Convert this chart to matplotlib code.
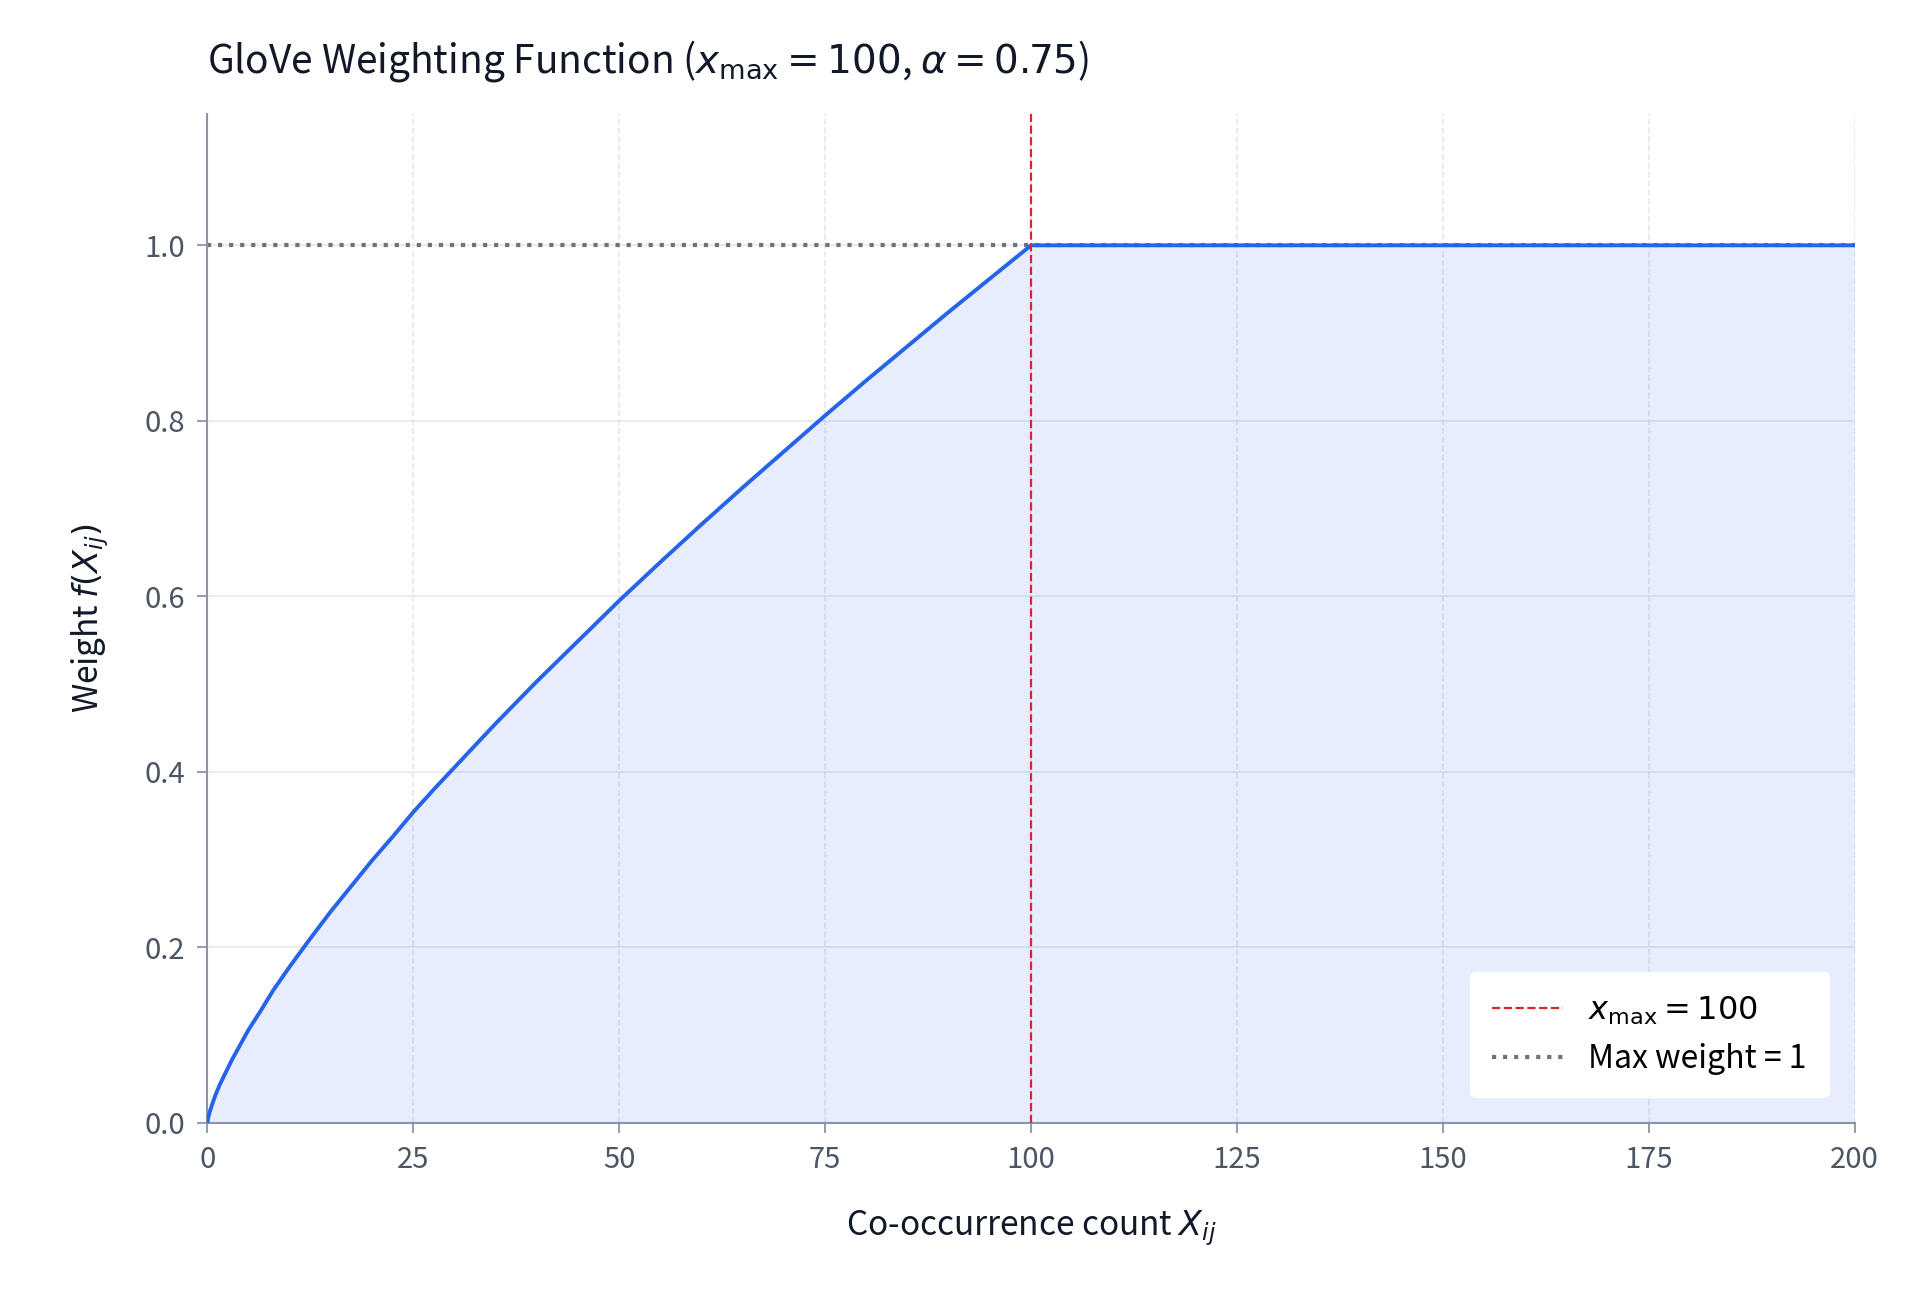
import matplotlib
matplotlib.use('Agg')
import matplotlib.pyplot as plt

plt.rcParams['font.family'] = ['Noto Sans CJK KR', 'DejaVu Sans']
plt.rcParams['mathtext.fontset'] = 'dejavusans'

# weight
counts = [0, 0.1, 0.3, 0.6, 1, 1.5, 2, 3, 4, 5, 6.5, 8, 10, 12.5, 15, 17.5,
          20, 22.5, 25, 27.5, 30, 35, 40, 45, 50, 55, 60, 65, 70, 75, 80, 85,
          90, 95, 100, 200]
weights = [0.0, 0.0056, 0.0128, 0.0215, 0.032, 0.0433, 0.053, 0.072, 0.089,
           0.106, 0.128, 0.151, 0.178, 0.210, 0.241, 0.270, 0.299, 0.326,
           0.354, 0.380, 0.405, 0.455, 0.503, 0.549, 0.595, 0.639, 0.682,
           0.724, 0.765, 0.806, 0.846, 0.885, 0.924, 0.962, 1.0, 1.0]
x_max = 100
max_weight = 1.0

fig = plt.figure(figsize=(19.2, 12.92), dpi=100)
ax = fig.add_axes([0.108, 0.131, 0.858, 0.781])

ax.fill_between(counts, weights, color='#2563eb', alpha=0.11, linewidth=0)
ax.plot(counts, weights, color='#2563eb', linewidth=2.8, zorder=3)
ax.axvline(x_max, color='#dc2626', linestyle='--', linewidth=1.6,
           label=r'$x_{\max} = 100$', zorder=4)
ax.axhline(max_weight, color='#6b7280', linestyle=':', linewidth=3,
           label='Max weight = 1', zorder=2)

ax.set_xlim(0, 200)
ax.set_ylim(0, 1.15)
ax.set_xticks(range(0, 201, 25))
ax.set_yticks([0, 0.2, 0.4, 0.6, 0.8, 1.0])
ax.set_yticklabels(['0.0', '0.2', '0.4', '0.6', '0.8', '1.0'])
ax.xaxis.grid(True, linestyle='--', color='#e5e7eb', linewidth=1.2)
ax.yaxis.grid(True, linestyle='-', color='#e5e7eb', linewidth=1.2)
ax.set_axisbelow(True)

for s in ['top', 'right']:
    ax.spines[s].set_visible(False)
for s in ['left', 'bottom']:
    ax.spines[s].set_color('#8a94a6')
    ax.spines[s].set_linewidth(1.5)
ax.tick_params(colors='#8a94a6', labelcolor='#4b5563', labelsize=21,
               length=7, width=1.3, pad=9)

ax.set_xlabel(r'Co-occurrence count $X_{ij}$', fontsize=24, color='#111827',
              labelpad=24)
ax.set_ylabel(r'Weight $f(X_{ij})$', fontsize=24, color='#111827', labelpad=24)
ax.set_title(r'GloVe Weighting Function ($x_{\max} = 100$, $\alpha = 0.75$)',
             fontsize=28, color='#111827', loc='left', pad=30)

leg = ax.legend(loc='lower right', fontsize=23, frameon=True,
                borderpad=0.7, handlelength=2.2, borderaxespad=0.8)
leg.get_frame().set_facecolor('white')
leg.get_frame().set_edgecolor('white')
leg.get_frame().set_alpha(1.0)

fig.savefig('out.png', dpi=100, facecolor='white')
